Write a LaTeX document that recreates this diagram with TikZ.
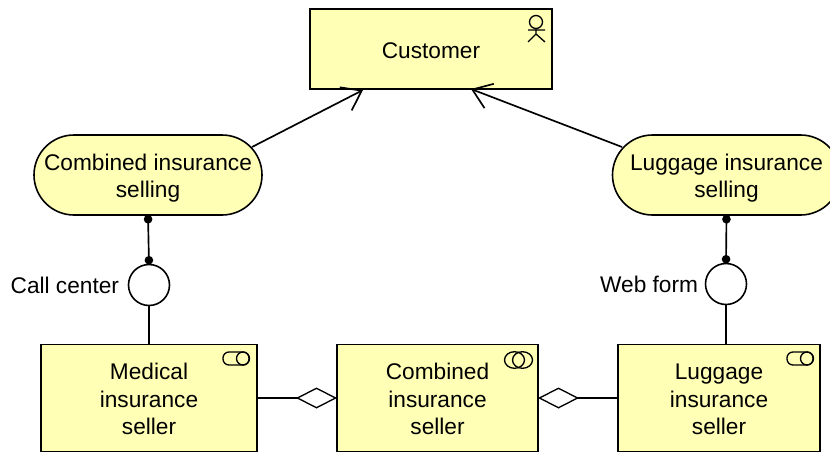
\documentclass[tikz,border=0pt]{standalone}
\usepackage{fontspec}
\setmainfont{Liberation Sans}
\usetikzlibrary{arrows.meta}
\definecolor{archfill}{RGB}{255,255,181}
\newcommand{\px}[1]{#1*0.75pt}
\newcommand{\dn}[1]{\rule{0pt}{#1}}
\tikzset{
  base/.style={draw=black,fill=archfill,line width=1.2pt,inner sep=0pt,outer sep=0pt,align=center,
    font=\fontsize{17}{20.6}\selectfont},
  actorbox/.style={base,minimum width=\px{242},minimum height=\px{80}},
  procbox/.style={base,minimum width=\px{228},minimum height=\px{80},rounded corners=\px{40}},
  rolebox/.style={base,minimum height=\px{107}},
  iface/.style={circle,draw=black,fill=white,line width=1.2pt,minimum size=\px{41},inner sep=0pt,outer sep=0pt},
  lbl/.style={inner sep=0pt,outer sep=0pt,font=\fontsize{17}{20.6}\selectfont},
  conn/.style={line width=1.25pt,draw=black},
  flow/.style={conn,-{Straight Barb[length=\px{18},width=\px{26},line width=1.25pt]}},
  assign/.style={conn,{Circle[length=\px{8.5},width=\px{8.5}]}-{Circle[length=\px{8.5},width=\px{8.5}]}},
  aggr/.style={conn,-{Diamond[length=\px{41},width=\px{21},fill=white,line width=1pt]}},
  icon/.style={draw=black,line width=1pt}
}
\begin{document}
\begin{tikzpicture}[x=0.75pt,y=-0.75pt]
\useasboundingbox (0,0) rectangle (830,453);
\node[actorbox] (cust) at (431,49) {\dn{14.6pt}Customer};
\node[procbox] (sellA) at (148,175) {\dn{17pt}Combined insurance\\selling};
\node[procbox] (sellB) at (726.5,175) {\dn{17pt}Luggage insurance\\selling};
\node[iface] (ifA) at (149,285) {};
\node[iface] (ifB) at (726,284) {};
\node[lbl,anchor=east] (lblA) at (119,285.3) {Call center};
\node[lbl,anchor=east] (lblB) at (698,284.3) {Web form};
\node[rolebox,minimum width=\px{216}] (med) at (149,398) {\dn{14pt}Medical\\insurance\\seller};
\node[rolebox,minimum width=\px{201}] (comb) at (437.5,398) {\dn{14pt}Combined\\insurance\\seller};
\node[rolebox,minimum width=\px{202}] (lug) at (719,398) {\dn{14pt}Luggage\\insurance\\seller};
% connector ends
\coordinate (fromA) at (252,147);
\coordinate (toA) at (363,90);
\coordinate (fromB) at (622,147);
\coordinate (toB) at (471,89);
\coordinate (medTop) at (149,344.5);
\coordinate (lugTop) at (726,344.5);
\draw[flow] (fromA) -- (toA);
\draw[flow] (fromB) -- (toB);
\draw[assign] (sellA.south) -- (ifA.north);
\draw[assign] (sellB.south) -- (ifB.north);
\draw[conn] (ifA.south) -- (medTop);
\draw[conn] (ifB.south) -- (lugTop);
\draw[aggr] (med.east) -- (comb.west);
\draw[aggr] (lug.west) -- (comb.east);
% actor icon
\draw[icon] (536,22) circle (6.5);
\draw[icon] (536,28.5) -- (536,34) (528,30) -- (545,30) (528,42) -- (536,34) -- (545,42);
% component icons
\foreach \cx in {236,800}{
  \draw[icon,rounded corners=4.5pt] (\cx-13,352) rectangle (\cx+13,365);
  \draw[icon] (\cx+7,358.5) circle (6.5);
}
% collaboration icon
\draw[icon] (514.5,360) ellipse (10 and 8.3);
\draw[icon] (522.5,360) ellipse (10 and 8.3);
\end{tikzpicture}
\end{document}
